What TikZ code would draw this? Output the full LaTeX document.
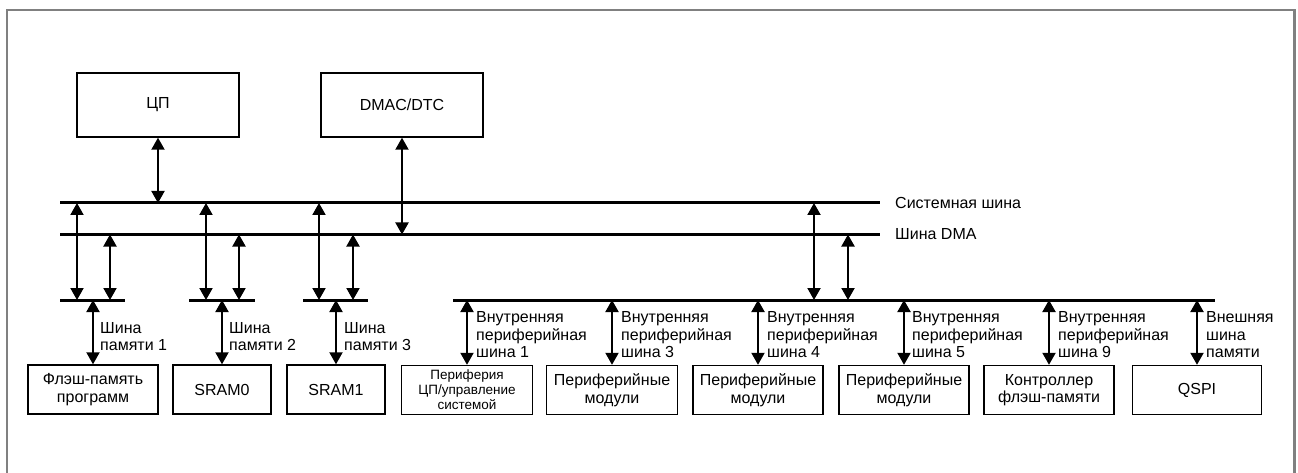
\documentclass[tikz,border=0pt]{standalone}
\usepackage{fontspec}
\setmainfont{Liberation Sans}
\usetikzlibrary{arrows.meta}
\begin{document}
\begin{tikzpicture}[x=1pt,y=-1pt,
  box/.style={draw=black,line width=1.4pt,inner sep=0pt,align=center,font=\fontsize{16}{17.5}\selectfont},
  smallbox/.style={box,font=\fontsize{13.5}{15}\selectfont},
  busline/.style={line width=3pt},
  biarrow/.style={line width=2pt,{Triangle[length=12pt,width=13pt]}-{Triangle[length=12pt,width=13pt]}},
  lbl/.style={anchor=west,align=left,inner sep=0pt,font=\fontsize{16}{17.5}\selectfont},
  frame/.style={draw=black!50,line width=1.5pt}]
\useasboundingbox (0,0) rectangle (1298,473);
% frame
\draw[frame] (7,480) -- (7,10) -- (1294,10);
\draw[draw=black!50,line width=3pt] (1294,9.3) -- (1294,480);
% top boxes
\node[box,minimum width=162pt,minimum height=64pt] (cpu) at (158,105) {ЦП};
\node[box,minimum width=162pt,minimum height=64pt] (dmac) at (402,105) {DMAC/DTC};
% buses
\coordinate (sysL) at (60,203); \coordinate (sysR) at (880,203);
\coordinate (dmaL) at (60,234.5); \coordinate (dmaR) at (880,234.5);
\draw[busline] (sysL) -- (sysR);
\draw[busline] (dmaL) -- (dmaR);
\node[lbl] (syslbl) at (895,203) {Системная шина};
\node[lbl] (dmalbl) at (895,234) {Шина DMA};
\draw[biarrow] (cpu.south) -- (cpu.south |- sysL);
\draw[biarrow] (dmac.south) -- (dmac.south |- dmaL);
% memory sub-buses
\coordinate (m1L) at (60,300); \coordinate (m1R) at (125,300);
\coordinate (m2L) at (189,300); \coordinate (m2R) at (255,300);
\coordinate (m3L) at (303,300); \coordinate (m3R) at (368,300);
\draw[busline] (m1L) -- (m1R);
\draw[busline] (m2L) -- (m2R);
\draw[busline] (m3L) -- (m3R);
\foreach \xs/\xd in {77/110,206/239,319/353}{
  \coordinate (a) at (\xs,203); \coordinate (b) at (\xs,300);
  \draw[biarrow] (a) -- (b);
  \coordinate (c) at (\xd,234.5); \coordinate (d) at (\xd,300);
  \draw[biarrow] (c) -- (d);
}
% memory boxes
\node[box,minimum width=130pt,minimum height=49pt] (flash) at (93,389.5) {Флэш-память\\программ};
\node[box,minimum width=98pt,minimum height=49pt] (sram0) at (222,389.5) {SRAM0};
\node[box,minimum width=98pt,minimum height=49pt] (sram1) at (336,389.5) {SRAM1};
\draw[biarrow] (flash.north |- m1L) -- (flash.north);
\draw[biarrow] (sram0.north |- m2L) -- (sram0.north);
\draw[biarrow] (sram1.north |- m3L) -- (sram1.north);
\node[lbl] (ml1) at (100,336.5) {Шина\\памяти 1};
\node[lbl] (ml2) at (229,336.5) {Шина\\памяти 2};
\node[lbl] (ml3) at (344,336.5) {Шина\\памяти 3};
% peripheral bus
\coordinate (pL) at (453,300); \coordinate (pR) at (1215,300);
\draw[busline] (pL) -- (pR);
\coordinate (ps) at (814,203); \coordinate (pse) at (814,300);
\coordinate (pd) at (848,234.5); \coordinate (pde) at (848,300);
\draw[biarrow] (ps) -- (pse);
\draw[biarrow] (pd) -- (pde);
% peripheral boxes
\node[smallbox,minimum width=131pt,minimum height=49pt] (pcpu) at (467,390) {Периферия\\ЦП/управление\\системой};
\node[box,minimum width=131pt,minimum height=49pt] (pm1) at (612,390) {Периферийные\\модули};
\node[box,minimum width=130pt,minimum height=49pt] (pm2) at (758,390) {Периферийные\\модули};
\node[box,minimum width=130pt,minimum height=49pt] (pm3) at (904,390) {Периферийные\\модули};
\node[box,minimum width=130pt,minimum height=49pt] (fctl) at (1049,390) {Контроллер\\флэш-памяти};
\node[box,minimum width=129pt,minimum height=49pt] (qspi) at (1197,390) {QSPI};
\foreach \n in {pcpu,pm1,pm2,pm3,fctl,qspi}{
  \draw[biarrow] (\n.north |- pL) -- (\n.north);
}
\node[lbl] (pl1) at (476,335) {Внутренняя\\периферийная\\шина 1};
\node[lbl] (pl3) at (621,335) {Внутренняя\\периферийная\\шина 3};
\node[lbl] (pl4) at (767,335) {Внутренняя\\периферийная\\шина 4};
\node[lbl] (pl5) at (912,335) {Внутренняя\\периферийная\\шина 5};
\node[lbl] (pl9) at (1058,335) {Внутренняя\\периферийная\\шина 9};
\node[lbl] (plq) at (1206,335) {Внешняя\\шина\\памяти};
\end{tikzpicture}
\end{document}
